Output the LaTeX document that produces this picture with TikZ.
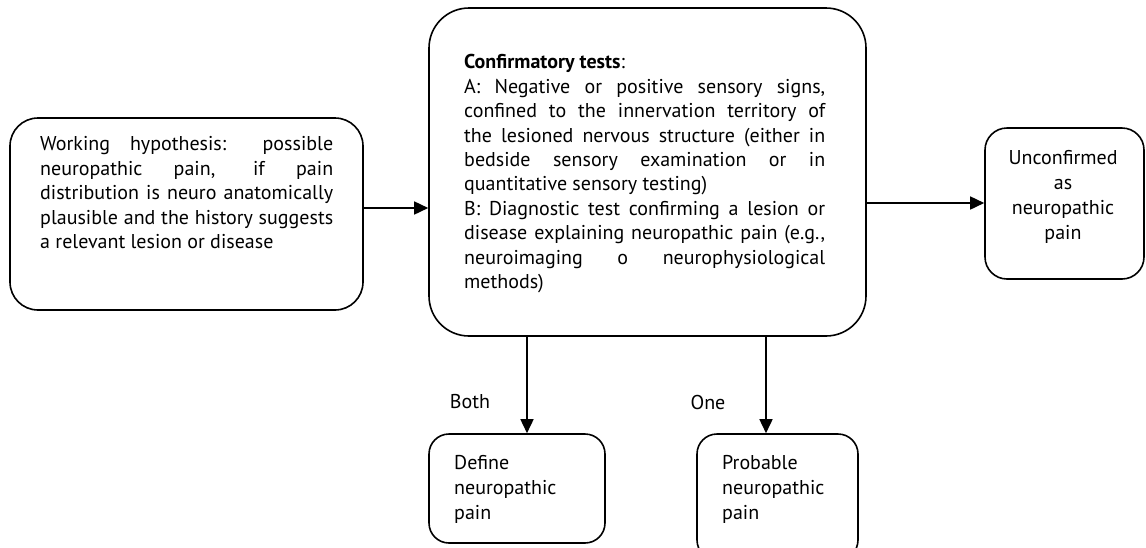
\documentclass[tikz,border=0pt]{standalone}
\usepackage{fontspec}
\setmainfont{PT Sans}
\usetikzlibrary{arrows.meta}
\newcommand{\nohy}{\hyphenpenalty=10000\relax\tolerance=10000\relax}
\begin{document}
\begin{tikzpicture}[x=1pt,y=-1pt,
  box/.style={draw=black,line width=1.6pt,rounded corners=#1,inner sep=0pt},
  txt/.style={inner sep=0pt,font=\fontsize{20}{24.4}\selectfont,align=justify,anchor=north west},
  lbl/.style={inner sep=0pt,font=\fontsize{20}{24.4}\selectfont},
  arr/.style={line width=1.6pt,-{Triangle[length=14pt,width=13pt]}}]
\useasboundingbox (0,0) rectangle (1146,547);
% boxes
\node[box=28pt,minimum width=353pt,minimum height=192pt] (work) at (186.5,214) {};
\node[box=40pt,minimum width=437pt,minimum height=328pt] (conf) at (647.5,172) {};
\node[box=22pt,minimum width=159pt,minimum height=151pt] (unc) at (1064.5,203.5) {};
\node[box=20pt,minimum width=176pt,minimum height=109pt] (def) at (517,488.5) {};
\node[box=20pt,minimum width=161pt,minimum height=126pt] (prob) at (777.5,497) {};
% texts
\node[txt,text width=293pt] (worktxt) at (40,136.5) {\nohy Working hypothesis: possible\linebreak neuropathic pain, if pain\linebreak distribution is neuro anatomically\linebreak plausible and the history suggests\linebreak a relevant lesion or disease};
\node[txt,text width=361pt] (conftxt) at (464,54.5) {\nohy\textbf{Confirmatory tests}:\\
A: Negative or positive sensory signs,\linebreak confined to the innervation territory of\linebreak the lesioned nervous structure (either in\linebreak bedside sensory examination or in\linebreak quantitative sensory testing)\\
B: Diagnostic test confirming a lesion or\linebreak disease explaining neuropathic pain (e.g.,\linebreak neuroimaging o neurophysiological\linebreak methods)};
\node[lbl,align=center,font=\fontsize{20}{25}\selectfont] (unctxt) at (1063,197) {Unconfirmed\\as\\neuropathic\\pain};
\node[lbl,align=left,anchor=north west,font=\fontsize{20}{25}\selectfont] (deftxt) at (454,455) {Define\\neuropathic\\pain};
\node[lbl,align=left,anchor=north west,font=\fontsize{20}{25}\selectfont] (probtxt) at (722,455.5) {Probable\\neuropathic\\pain};
\node[lbl] (both) at (470,402) {Both};
\node[lbl] (one) at (708,402) {One};
% connectors
\draw[arr] (work.east |- 0,208) -- (conf.west |- 0,208);
\draw[arr] (conf.east |- 0,203) -- (unc.west |- 0,203);
\draw[arr] (conf.south -| 527,0) -- (def.north -| 527,0);
\draw[arr] (conf.south -| 766,0) -- (prob.north -| 766,0);
\end{tikzpicture}
\end{document}
